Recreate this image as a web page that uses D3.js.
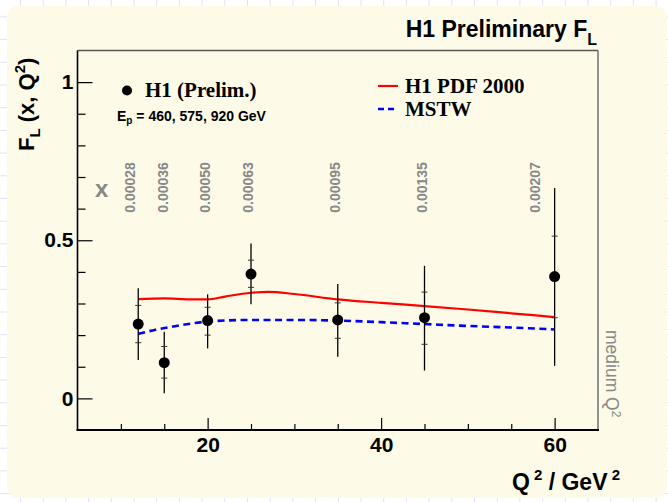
<!DOCTYPE html>
<html><head><meta charset="utf-8">
<script src="https://cdn.jsdelivr.net/npm/d3@7"></script>
<style>
html,body{margin:0;padding:0;background:#fff;}
svg{display:block;font-family:"Liberation Sans",Arial,Helvetica,sans-serif;}
</style></head>
<body>
<svg id="c" width="668" height="502"></svg>
<script>
// ---- data ----
const Q2 = [12, 15, 20, 25, 35, 45, 60];
const FL = [0.235, 0.113, 0.246, 0.393, 0.248, 0.255, 0.385];
const statLo = [0.176, 0.064, 0.200, 0.351, 0.190, 0.171, 0.255];
const statHi = [0.294, 0.164, 0.288, 0.437, 0.302, 0.336, 0.513];
const totLo = [0.121, 0.016, 0.158, 0.298, 0.132, 0.088, 0.103];
const totHi = [0.348, 0.211, 0.329, 0.490, 0.362, 0.419, 0.665];
const xValueLabels = ["0.00028", "0.00036", "0.00050", "0.00063", "0.00095", "0.00135", "0.00207"];
const xValueLabelQ2 = [11.05, 14.86, 19.7, 24.66, 34.69, 44.72, 57.75];
const h1pdfQ2 = [12, 15, 18, 20, 22, 25, 27, 30, 35, 40, 45, 50, 55, 60];
const h1pdfFL = [0.314, 0.316, 0.313, 0.313, 0.322, 0.334, 0.337, 0.330, 0.313, 0.302, 0.292, 0.281, 0.269, 0.257];
const mstwQ2 = [12, 14, 16, 18, 20, 25, 30, 35, 40, 45, 50, 55, 60];
const mstwFL = [0.204, 0.217, 0.227, 0.236, 0.243, 0.248, 0.248, 0.246, 0.241, 0.235, 0.229, 0.224, 0.218];
const yMajorTicks = [0, 0.5, 1];
const yMinorTicks = [0.1, 0.2, 0.3, 0.4, 0.6, 0.7, 0.8, 0.9];
const xMajorTicks = [20, 40, 60];
const xMinorTicks = [10, 15, 25, 30, 35, 45, 50, 55];

const SANS = '"Liberation Sans", Arial, Helvetica, sans-serif';
const SERIF = '"Liberation Serif", "Times New Roman", Times, serif';

const svg = d3.select("#c");
const W = 668, H = 502;

// background grid paper
const grid = svg.append("g");
d3.range(16.9, H, 22.7).forEach(v => grid.append("line").attr("x1", 0).attr("x2", W).attr("y1", v).attr("y2", v).attr("stroke", "#e2e2f8").attr("stroke-width", 1));
d3.range(20.5, W, 22.7).forEach(v => grid.append("line").attr("y1", 0).attr("y2", H).attr("x1", v).attr("x2", v).attr("stroke", "#e2e2f8").attr("stroke-width", 1));
svg.append("rect").attr("x", 7).attr("y", 6).attr("width", 660).attr("height", 492).attr("rx", 11).attr("fill", "#fdfbe8");

const x = d3.scaleLinear().domain([5, 65]).range([77.5, 598]);
const y = d3.scaleLinear().domain([-0.1, 1.1]).range([430, 50.5]);

// axes
const fmtY = d => String(d);
const yMaj = svg.append("g").attr("transform", `translate(${x(5)},0)`)
  .call(d3.axisLeft(y).tickValues(yMajorTicks).tickSize(-15).tickPadding(4).tickFormat(fmtY));
const yMin = svg.append("g").attr("transform", `translate(${x(5)},0)`)
  .call(d3.axisLeft(y).tickValues(yMinorTicks).tickSize(-8).tickFormat(""));
const xMaj = svg.append("g").attr("transform", `translate(0,${y(-0.1)})`)
  .call(d3.axisBottom(x).tickValues(xMajorTicks).tickSize(-12).tickPadding(7).tickFormat(d3.format("d")));
const xMin = svg.append("g").attr("transform", `translate(0,${y(-0.1)})`)
  .call(d3.axisBottom(x).tickValues(xMinorTicks).tickSize(-6).tickFormat(""));
[yMaj, yMin, xMaj, xMin].forEach(g => {
  g.select(".domain").remove();
  g.selectAll(".tick line").attr("stroke", "#000").attr("stroke-width", 1.2);
  g.selectAll(".tick text").style("font-family", SANS).style("font-weight", "bold").style("font-size", "21px").attr("fill", "#000");
});

// frame
svg.append("line").attr("x1", x(5)).attr("x2", x(65)).attr("y1", y(1.1)).attr("y2", y(1.1)).attr("stroke", "#555").attr("stroke-width", 1.6);
svg.append("line").attr("x1", x(65)).attr("x2", x(65)).attr("y1", y(1.1)).attr("y2", y(-0.1)).attr("stroke", "#777").attr("stroke-width", 1.6);
svg.append("line").attr("x1", x(5)).attr("x2", x(5)).attr("y1", y(1.1)).attr("y2", y(-0.1)).attr("stroke", "#000").attr("stroke-width", 1.6);
svg.append("line").attr("x1", x(5) - 1).attr("x2", x(65) + 1).attr("y1", y(-0.1)).attr("y2", y(-0.1)).attr("stroke", "#000").attr("stroke-width", 2.2);

// x value labels
svg.append("text").attr("x", 95).attr("y", 197).style("font-family", SANS).style("font-size", "24px").style("font-weight", "bold").attr("fill", "#888").text("x");
xValueLabels.forEach((t, i) => {
  svg.append("text").attr("transform", `translate(${x(xValueLabelQ2[i]) + 5},187.5) rotate(-90)`)
    .attr("text-anchor", "middle").style("font-family", SANS).style("font-size", "14px").style("font-weight", "bold").attr("fill", "#888").text(t);
});

// curves
const line = d3.line().curve(d3.curveMonotoneX);
svg.append("path").attr("d", line(h1pdfQ2.map((q, i) => [x(q), y(h1pdfFL[i])])))
  .attr("fill", "none").attr("stroke", "#ff0000").attr("stroke-width", 2.2);
svg.append("path").attr("d", line(mstwQ2.map((q, i) => [x(q), y(mstwFL[i])])))
  .attr("fill", "none").attr("stroke", "#0000ff").attr("stroke-width", 2.6).attr("stroke-dasharray", "7,4.5");

// data points
const pts = svg.append("g");
Q2.forEach((q, i) => {
  pts.append("line").attr("x1", x(q)).attr("x2", x(q)).attr("y1", y(totLo[i])).attr("y2", y(totHi[i])).attr("stroke", "#000").attr("stroke-width", 1.3);
  [statLo[i], statHi[i]].forEach(v => pts.append("line").attr("x1", x(q) - 3).attr("x2", x(q) + 3).attr("y1", y(v)).attr("y2", y(v)).attr("stroke", "#333").attr("stroke-width", 1));
  pts.append("circle").attr("cx", x(q)).attr("cy", y(FL[i])).attr("r", 5.5).attr("fill", "#000");
});

// legend
svg.append("circle").attr("cx", 127).attr("cy", 90.5).attr("r", 5).attr("fill", "#000");
svg.append("text").attr("x", 145).attr("y", 97).style("font-family", SERIF).style("font-weight", "bold").style("font-size", "21px").text("H1 (Prelim.)");
const ep = svg.append("text").attr("x", 117).attr("y", 121).style("font-family", SANS).style("font-weight", "bold").style("font-size", "14px");
ep.append("tspan").text("E");
ep.append("tspan").attr("dy", 3).style("font-size", "10px").text("p");
ep.append("tspan").attr("dy", -3).text(" = 460, 575, 920 GeV");

svg.append("line").attr("x1", 378).attr("x2", 398).attr("y1", 86).attr("y2", 86).attr("stroke", "#ff0000").attr("stroke-width", 2.2);
svg.append("text").attr("x", 405).attr("y", 93).style("font-family", SERIF).style("font-weight", "bold").style("font-size", "21px").text("H1 PDF 2000");
svg.append("line").attr("x1", 378).attr("x2", 398).attr("y1", 109).attr("y2", 109).attr("stroke", "#0000ff").attr("stroke-width", 2.6).attr("stroke-dasharray", "6,4");
svg.append("text").attr("x", 405).attr("y", 116).style("font-family", SERIF).style("font-weight", "bold").style("font-size", "21px").text("MSTW");

// title
const title = svg.append("text").attr("x", 597).attr("y", 37).attr("text-anchor", "end").style("font-family", SANS).style("font-weight", "bold").style("font-size", "23px");
title.append("tspan").text("H1 Preliminary F");
title.append("tspan").attr("dy", 8).style("font-size", "16px").text("L");

// y title
const yt = svg.append("text").attr("transform", "translate(34,151) rotate(-90)").style("font-family", SANS).style("font-weight", "bold").style("font-size", "22px");
yt.append("tspan").text("F");
yt.append("tspan").attr("dy", 6).style("font-size", "15px").text("L");
yt.append("tspan").attr("dy", -6).text(" (x, Q");
yt.append("tspan").attr("dy", -9).style("font-size", "15px").text("2");
yt.append("tspan").attr("dy", 9).text(")");

// x title
const xt = svg.append("text").attr("x", 620).attr("y", 490).attr("text-anchor", "end").style("font-family", SANS).style("font-weight", "bold").style("font-size", "23px");
xt.append("tspan").text("Q");
xt.append("tspan").attr("dy", -10).style("font-size", "15px").text(" 2");
xt.append("tspan").attr("dy", 10).text(" / GeV");
xt.append("tspan").attr("dy", -10).style("font-size", "15px").text(" 2");

// medium Q2
const mq = svg.append("text").attr("transform", "translate(606,330) rotate(90)").style("font-family", SANS).style("font-size", "17.5px").attr("fill", "#888");
mq.append("tspan").text("medium Q");
mq.append("tspan").attr("dy", -6).style("font-size", "12px").text("2");
</script>
</body></html>
